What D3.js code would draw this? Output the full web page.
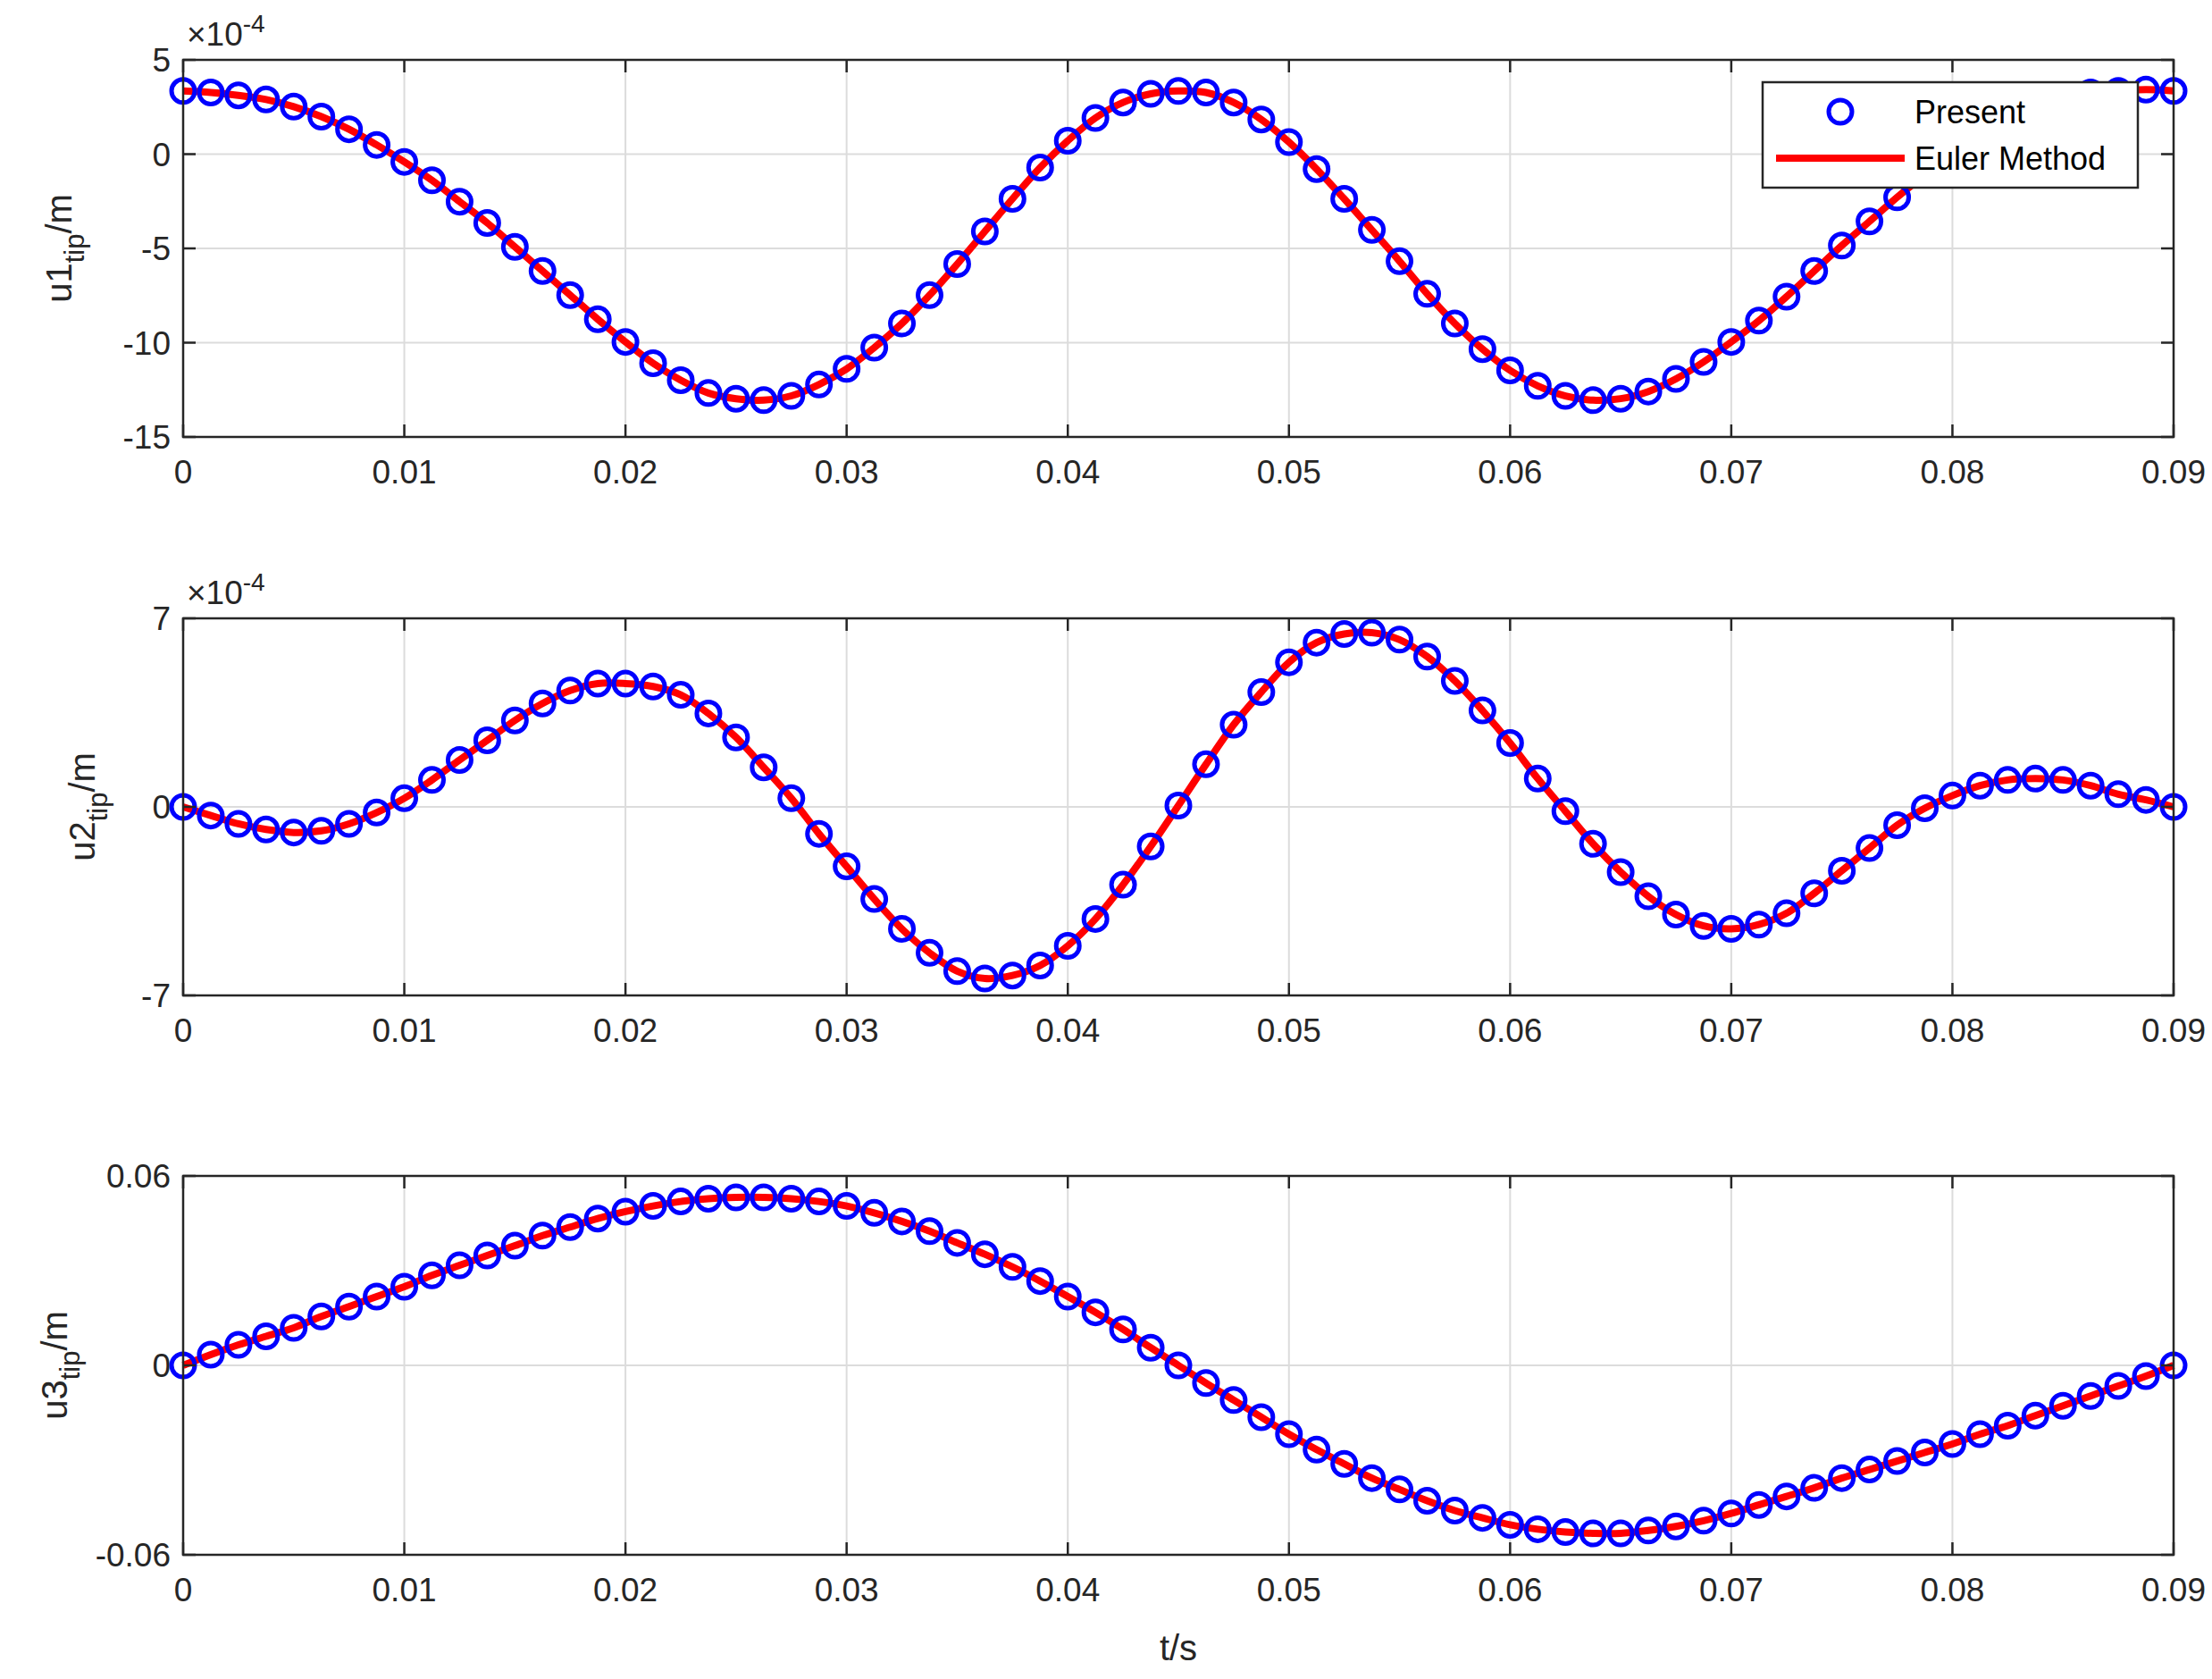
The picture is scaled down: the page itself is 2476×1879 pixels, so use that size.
<!DOCTYPE html>
<html><head><meta charset="utf-8">
<script src="https://cdn.jsdelivr.net/npm/d3@7"></script>
<style>body{margin:0;background:#fff}svg{display:block;font-family:"Liberation Sans",Arial,sans-serif}</style>
</head><body><svg id="c" width="2476" height="1879"></svg>
<script>
const xTicks=[0,0.01,0.02,0.03,0.04,0.05,0.06,0.07,0.08,0.09];
const xTickLabels=["0","0.01","0.02","0.03","0.04","0.05","0.06","0.07","0.08","0.09"];
// u1 tip (x1e-4 m)
const u1=[3.35,3.27,3.12,2.9,2.52,1.99,1.32,0.49,-0.41,-1.39,-2.52,-3.65,-4.92,-6.2,-7.48,-8.76,-9.96,-11.09,-11.99,-12.67,-12.97,-13.05,-12.82,-12.22,-11.39,-10.26,-8.98,-7.48,-5.83,-4.1,-2.37,-0.71,0.71,1.92,2.74,3.2,3.35,3.27,2.74,1.84,0.64,-0.79,-2.37,-4.02,-5.68,-7.41,-8.98,-10.34,-11.47,-12.29,-12.82,-13.05,-12.97,-12.59,-11.92,-11.02,-9.96,-8.83,-7.56,-6.2,-4.85,-3.57,-2.29,-1.09,0.04,1.02,1.84,2.52,2.97,3.27,3.35,3.42,3.35];
// u2 tip (x1e-4 m)
const u2=[0,-0.32,-0.63,-0.84,-0.95,-0.89,-0.63,-0.21,0.32,1.0,1.74,2.47,3.21,3.84,4.32,4.58,4.58,4.47,4.16,3.47,2.58,1.47,0.32,-1.0,-2.21,-3.42,-4.53,-5.42,-6.1,-6.37,-6.26,-5.89,-5.16,-4.16,-2.89,-1.47,0.05,1.58,3.05,4.26,5.37,6.1,6.42,6.47,6.21,5.58,4.68,3.58,2.37,1.05,-0.16,-1.37,-2.42,-3.32,-4.0,-4.42,-4.53,-4.37,-3.95,-3.21,-2.37,-1.53,-0.68,-0.05,0.42,0.79,1.0,1.05,1.0,0.79,0.47,0.26,0];
// u3 tip (x1e-3 m)
const u3=[0,3.4,6.5,9.2,11.9,15.5,18.6,21.8,24.9,28.5,31.7,34.8,37.9,41.1,43.8,46.5,48.7,50.5,51.9,52.8,53.2,53.2,52.8,51.9,50.5,48.3,45.6,42.5,38.8,35.2,31.2,26.7,21.8,16.8,11.4,5.6,0,-5.6,-11,-16.4,-21.8,-26.7,-31.2,-35.7,-39.3,-42.9,-46,-48.3,-50.5,-51.9,-52.8,-53.2,-53.2,-52.3,-51,-49.2,-46.9,-44.2,-41.5,-38.8,-35.7,-33,-30.3,-27.6,-24.9,-21.8,-19.1,-15.9,-12.8,-9.7,-6.5,-3.4,0];
const tEnd=0.09;
const panels=[
 {name:"u1",vals:u1,dom:[-15,5],ticks:[-15,-10,-5,0,5],labels:["-15","-10","-5","0","5"],exp:true,top:67,bot:489},
 {name:"u2",vals:u2,dom:[-7,7],ticks:[-7,0,7],labels:["-7","0","7"],exp:true,top:692,bot:1114},
 {name:"u3",vals:u3.map(v=>v/60),dom:[-1,1],ticks:[-1,0,1],labels:["-0.06","0","0.06"],exp:false,top:1316,bot:1740}
];
const svg=d3.select("#c");
const L=205,R=2433;
const x=d3.scaleLinear().domain([0,tEnd]).range([L,R]);
const FS=37;
panels.forEach(p=>{
  const y=d3.scaleLinear().domain(p.dom).range([p.bot,p.top]);
  const g=svg.append("g");
  g.selectAll(".gx").data(xTicks).join("line").attr("x1",d=>x(d)).attr("x2",d=>x(d)).attr("y1",p.top).attr("y2",p.bot).attr("stroke","#dcdcdc").attr("stroke-width",2);
  g.selectAll(".gy").data(p.ticks).join("line").attr("y1",d=>y(d)).attr("y2",d=>y(d)).attr("x1",L).attr("x2",R).attr("stroke","#dcdcdc").attr("stroke-width",2);
  const data=p.vals.map((v,i)=>({t:i*tEnd/(p.vals.length-1),v}));
  const line=d3.line().x(d=>x(d.t)).y(d=>y(d.v)).curve(d3.curveCatmullRom);
  g.append("path").datum(data).attr("d",line).attr("fill","none").attr("stroke","#ff0000").attr("stroke-width",8);
  g.selectAll("circle").data(data).join("circle").attr("cx",d=>x(d.t)).attr("cy",d=>y(d.v)).attr("r",13).attr("fill","none").attr("stroke","#0000ff").attr("stroke-width",5);
  g.append("rect").attr("x",L).attr("y",p.top).attr("width",R-L).attr("height",p.bot-p.top).attr("fill","none").attr("stroke","#262626").attr("stroke-width",2.5);
  xTicks.forEach(t=>{
    g.append("line").attr("x1",x(t)).attr("x2",x(t)).attr("y1",p.bot).attr("y2",p.bot-14).attr("stroke","#262626").attr("stroke-width",2.5);
    g.append("line").attr("x1",x(t)).attr("x2",x(t)).attr("y1",p.top).attr("y2",p.top+14).attr("stroke","#262626").attr("stroke-width",2.5);
  });
  g.selectAll(".xl").data(xTicks).join("text").attr("x",d=>x(d)).attr("y",p.bot+52).attr("text-anchor","middle").attr("font-size",FS).attr("fill","#262626").text((d,i)=>xTickLabels[i]);
  p.ticks.forEach((t,i)=>{
    g.append("line").attr("x1",L).attr("x2",L+14).attr("y1",y(t)).attr("y2",y(t)).attr("stroke","#262626").attr("stroke-width",2.5);
    g.append("line").attr("x1",R).attr("x2",R-14).attr("y1",y(t)).attr("y2",y(t)).attr("stroke","#262626").attr("stroke-width",2.5);
    g.append("text").attr("x",L-14).attr("y",y(t)+13).attr("text-anchor","end").attr("font-size",FS).attr("fill","#262626").text(p.labels[i]);
  });
  if(p.exp){
    const e=g.append("text").attr("x",L+4).attr("y",p.top-16).attr("font-size",FS).attr("fill","#262626");
    e.append("tspan").text("×10");
    e.append("tspan").attr("dy",-15).attr("font-size",28).text("-4");
  }
  const yl=g.append("text").attr("transform",`translate(${p.name==="u3"?75:(p.name==="u1"?80:106)},${(p.top+p.bot)/2}) rotate(-90)`).attr("text-anchor","middle").attr("font-size",40).attr("fill","#262626");
  yl.append("tspan").text(p.name);
  yl.append("tspan").attr("dy",14).attr("font-size",31).text("tip");
  yl.append("tspan").attr("dy",-14).text("/m");
});
svg.append("text").attr("x",(L+R)/2).attr("y",1858).attr("text-anchor","middle").attr("font-size",40).attr("fill","#262626").text("t/s");
const lg=svg.append("g");
lg.append("rect").attr("x",1973).attr("y",92).attr("width",420).attr("height",118).attr("fill","#fff").attr("stroke","#262626").attr("stroke-width",2.5);
lg.append("circle").attr("cx",2060).attr("cy",125).attr("r",13).attr("fill","none").attr("stroke","#0000ff").attr("stroke-width",5);
lg.append("line").attr("x1",1988).attr("x2",2132).attr("y1",177).attr("y2",177).attr("stroke","#ff0000").attr("stroke-width",8);
lg.append("text").attr("x",2143).attr("y",138).attr("font-size",36).attr("fill","#000").text("Present");
lg.append("text").attr("x",2143).attr("y",190).attr("font-size",36).attr("fill","#000").text("Euler Method");
</script></body></html>
